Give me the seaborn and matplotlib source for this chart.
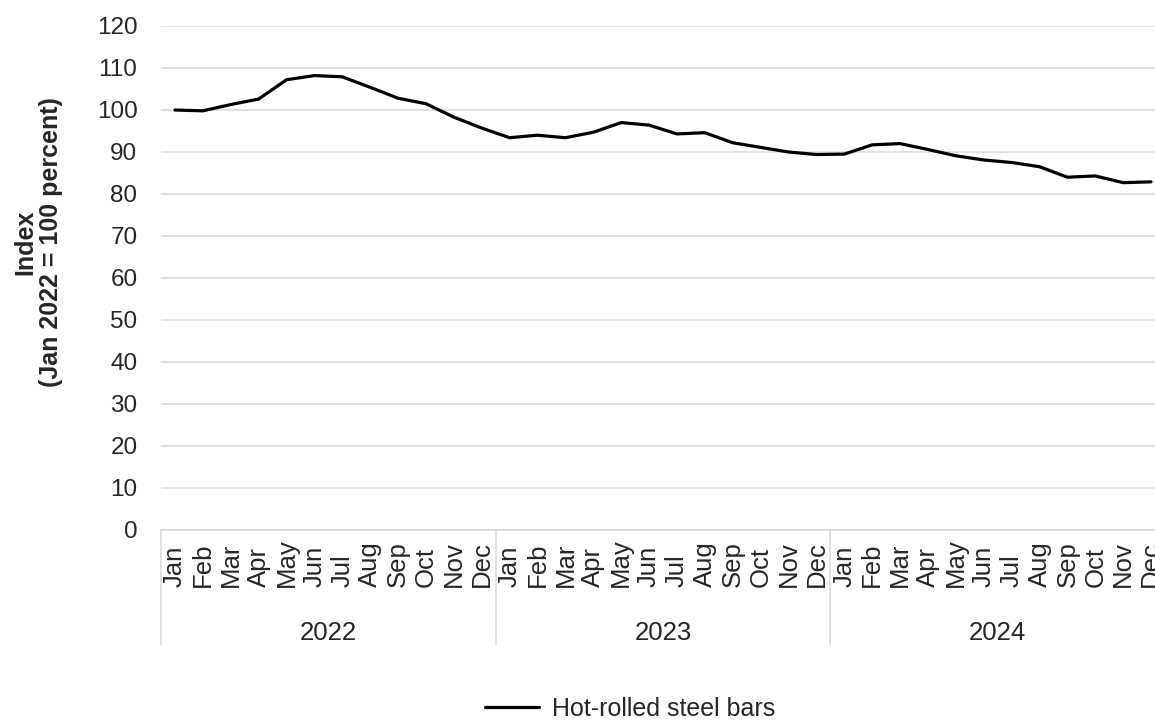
import numpy as np
import pandas as pd
import matplotlib
matplotlib.use("Agg")
import matplotlib.pyplot as plt
import seaborn as sns

# Índice de preço - barras de aço laminado a quente (Jan 2022 = 100)
anos = ["2022", "2023", "2024"]
meses = ["Jan", "Feb", "Mar", "Apr", "May", "Jun",
         "Jul", "Aug", "Sep", "Oct", "Nov", "Dec"]
indice = [100.0, 99.8, 101.3, 102.6, 107.2, 108.2, 107.9, 105.4, 102.8, 101.5, 98.3, 95.7,
          93.4, 94.0, 93.4, 94.7, 97.0, 96.4, 94.3, 94.6, 92.2, 91.1, 90.0, 89.4,
          89.5, 91.7, 92.0, 90.6, 89.1, 88.1, 87.5, 86.5, 84.0, 84.3, 82.7, 82.9]
serie = "Hot-rolled steel bars"

df = pd.DataFrame({
    "pos": np.arange(len(indice)),
    "mes": meses * len(anos),
    "ano": np.repeat(anos, len(meses)),
    "valor": indice,
})

sns.set_style("white")
plt.rcParams["font.family"] = ["Liberation Sans", "DejaVu Sans"]

fig = plt.figure(figsize=(11.55, 7.21), dpi=100)
ax = fig.add_axes([161 / 1155, 1 - 530 / 721, 1004 / 1155, 504 / 721])

sns.lineplot(data=df, x="pos", y="valor", color="black", linewidth=2.3,
             label=serie, legend=False, ax=ax)

cinza = "#d9d9d9"
ax.set_ylim(0, 120)
ax.set_xlim(-0.5, len(indice) - 0.5)
ax.set_yticks(np.arange(0, 121, 10))
ax.yaxis.grid(True, color=cinza, linewidth=1.1)
ax.set_axisbelow(True)
ax.tick_params(axis="y", length=0, pad=17, labelsize=17.5)
for s in ["top", "right", "left"]:
    ax.spines[s].set_visible(False)
ax.spines["bottom"].set_color(cinza)
ax.spines["bottom"].set_linewidth(1.1)
ax.set_xlabel("")
ax.set_ylabel("")

# eixo de categorias: meses + separadores
ax.set_xticks(df["pos"])
ax.set_xticklabels([])
ax.set_xticks(np.arange(-0.5, len(indice), 1), minor=True)
ax.tick_params(axis="x", which="major", length=0)
ax.tick_params(axis="x", which="minor", length=48, color=cinza, width=1.1)

tr = ax.get_xaxis_transform()
for p, m in zip(df["pos"], df["mes"]):
    ax.text(p, -57 / 504, m, transform=tr, rotation=90, ha="center", va="bottom",
            fontsize=18.5, clip_on=False)

# separadores dos anos
sec = ax.secondary_xaxis("bottom")
sec.set_xticks(np.arange(-0.5, len(indice), 12))
sec.set_xticklabels([])
sec.tick_params(length=83, color=cinza, width=1.1)
sec.spines["bottom"].set_visible(False)

for i, a in enumerate(anos):
    ax.text(i * 12 + 5.5, -103 / 504, a, transform=tr, ha="center", va="center",
            fontsize=18.5, clip_on=False)

fig.text(38 / 1155, 1 - 242 / 721, "Index\n(Jan 2022 = 100 percent)", rotation=90,
         ha="center", va="center", fontsize=18, fontweight="bold", linespacing=1.1)

fig.legend(loc="center", bbox_to_anchor=(630 / 1155, 1 - 709 / 721), frameon=False,
           fontsize=18, handlelength=2.15, handletextpad=0.5, borderpad=0.1)

fig.savefig("out.png", dpi=100)
